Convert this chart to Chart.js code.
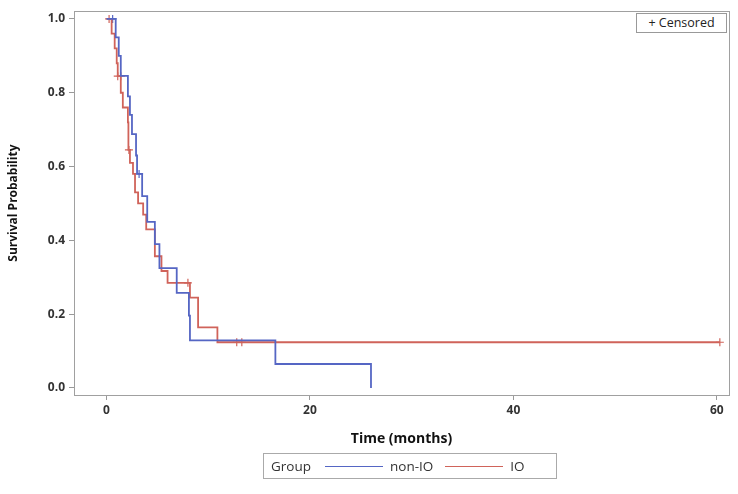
<!DOCTYPE html>
<html>
<head>
<meta charset="utf-8">
<script src="https://cdn.jsdelivr.net/npm/chart.js@4.4.0/dist/chart.umd.min.js"></script>
<style>
  body { margin: 0; background: #fff; font-family: "Open Sans", sans-serif; }
  #wrap { position: relative; width: 738px; height: 494px; }
  #censBox { position: absolute; left: 636px; top: 13px; width: 89px; height: 18px; border: 1px solid #999;
    font-size: 12.5px; color: #222; line-height: 18px; text-align: center; background: #fff; }
  #legend { position: absolute; left: 263px; top: 453px; width: 292px; height: 24px; border: 1px solid #aaa;
    font-size: 13.5px; color: #333; display: flex; align-items: center; line-height: 24px; }
  #legend .sw { display: inline-block; width: 58px; height: 0; border-top: 1px solid; margin: 0 7px 0 12px; }
</style>
</head>
<body>
<div id="wrap">
  <canvas id="km" width="738" height="494"></canvas>
  <div id="censBox">+ Censored</div>
  <div id="legend">
    <span style="margin-left:7px">Group</span>
    <span class="sw" style="border-color:#5566c4;margin-left:14px"></span><span>non-IO</span>
    <span class="sw" style="border-color:#d0635a"></span><span>IO</span>
  </div>
</div>
<script>
// Kaplan-Meier steps (time in months, survival after the event)
const nonIoTime = [0, 0.9, 1.2, 1.4, 2.1, 2.3, 2.5, 2.9, 3.0, 3.5, 4.0, 4.75, 5.2, 6.9, 8.1, 8.2, 16.6, 26.0];
const nonIoSurv = [1.0, 0.95, 0.90, 0.846, 0.79, 0.74, 0.688, 0.63, 0.58, 0.52, 0.45, 0.39, 0.325, 0.258, 0.196, 0.129, 0.065, 0.0];
const nonIoCensTime = [0.6, 3.2];
const nonIoCensSurv = [1.0, 0.58];

const ioTime = [0, 0.5, 0.8, 1.0, 1.1, 1.4, 1.6, 2.1, 2.15, 2.3, 2.6, 2.8, 3.1, 3.6, 3.9, 4.75, 5.4, 6.0, 8.2, 9.0, 10.9, 60.3];
const ioSurv = [1.0, 0.96, 0.92, 0.88, 0.845, 0.80, 0.76, 0.72, 0.645, 0.61, 0.58, 0.53, 0.50, 0.47, 0.43, 0.357, 0.317, 0.285, 0.245, 0.164, 0.124, 0.124];
const ioCensTime = [0.25, 1.1, 1.4, 2.2, 8.0, 12.8, 13.3, 60.3];
const ioCensSurv = [1.0, 0.845, 0.845, 0.645, 0.285, 0.124, 0.124, 0.124];

const xTicks = [0, 20, 40, 60];
const yTicks = [0, 0.2, 0.4, 0.6, 0.8, 1.0];

const blue = '#5566c4';
const red = '#d0635a';

function pts(xs, ys) { return xs.map((x, i) => ({ x: x, y: ys[i] })); }

const framePlugin = {
  id: 'frame',
  afterDatasetsDraw(chart) {
    const a = chart.chartArea, c = chart.ctx;
    c.save();
    c.strokeStyle = '#a0a0a0';
    c.lineWidth = 1;
    c.strokeRect(Math.round(a.left) + 0.5, Math.round(a.top) + 0.5, Math.round(a.right - a.left), Math.round(a.bottom - a.top));
    c.restore();
  }
};

const tickFont = { family: 'Open Sans', size: 12, weight: 'bold' };

new Chart(document.getElementById('km'), {
  type: 'line',
  data: {
    datasets: [
      { label: 'non-IO', data: pts(nonIoTime, nonIoSurv), borderColor: blue, borderWidth: 1.8, stepped: true, pointRadius: 0, fill: false },
      { label: 'IO', data: pts(ioTime, ioSurv), borderColor: red, borderWidth: 1.8, stepped: true, pointRadius: 0, fill: false },
      { label: 'non-IO censored', data: pts(nonIoCensTime, nonIoCensSurv), showLine: false, pointStyle: 'cross', pointRadius: 4, borderColor: blue, borderWidth: 1.2 },
      { label: 'IO censored', data: pts(ioCensTime, ioCensSurv), showLine: false, pointStyle: 'cross', pointRadius: 4, borderColor: red, borderWidth: 1.2 }
    ]
  },
  options: {
    responsive: false,
    animation: false,
    layout: { padding: { top: 8, right: 9, left: 0, bottom: 44 } },
    plugins: { legend: { display: false }, tooltip: { enabled: false } },
    scales: {
      x: {
        type: 'linear',
        min: -3.2,
        max: 61.2,
        afterBuildTicks: s => { s.ticks = xTicks.map(v => ({ value: v })); },
        afterFit: s => { s.height = 55; },
        border: { display: false },
        grid: { drawOnChartArea: false, drawTicks: true, tickLength: 5, color: '#999' },
        ticks: { font: tickFont, color: '#333', padding: 3, maxRotation: 0 },
        title: { display: true, text: 'Time (months)', font: { family: 'Open Sans', size: 14, weight: 'bold' }, color: '#111', padding: { top: 0, bottom: 3 } }
      },
      y: {
        min: -0.019,
        max: 1.021,
        afterBuildTicks: s => { s.ticks = yTicks.map(v => ({ value: v })); },
        afterFit: s => { s.width = 74; },
        border: { display: false },
        grid: { drawOnChartArea: false, drawTicks: true, tickLength: 5, color: '#999' },
        ticks: { font: tickFont, color: '#333', padding: 4, callback: v => v.toFixed(1) },
        title: { display: true, text: 'Survival Probability', font: { family: 'Open Sans', size: 12, weight: 'bold' }, color: '#111', padding: { top: 6, bottom: 0 } }
      }
    }
  },
  plugins: [framePlugin]
});
</script>
</body>
</html>
